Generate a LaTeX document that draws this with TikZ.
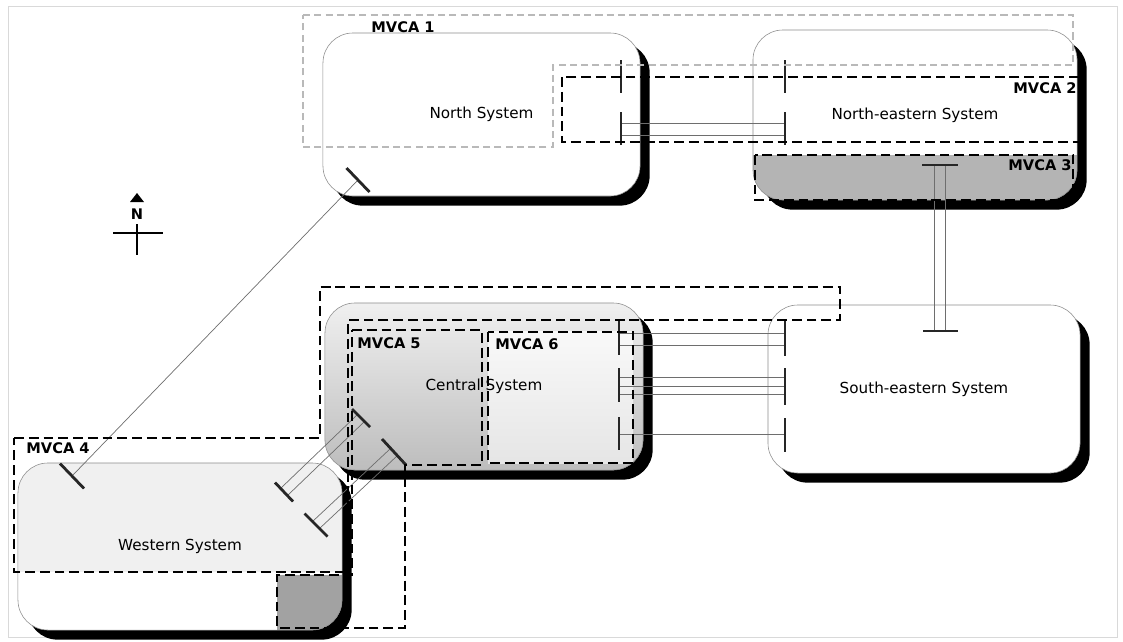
\documentclass[tikz,border=0pt]{standalone}
\usepackage{fontspec}
\setmainfont{DejaVu Sans}
\usetikzlibrary{shadows}
\definecolor{box-line}{HTML}{8C8C8C}
\definecolor{link-line}{HTML}{6E6E6E}
\definecolor{zone-mid}{HTML}{B4B4B4}
\definecolor{zone-dark}{HTML}{A2A2A2}

\begin{document}
\begin{tikzpicture}[x=0.025cm, y=-0.025cm,
      every node/.style={font=\fontsize{10.8}{13}\selectfont},
      system/.style={draw=box-line, fill=white, rounded corners=0.75cm,
        align=center, drop shadow={shadow xshift=0.24cm,
        shadow yshift=-0.24cm, fill=black, opacity=1}},
      zone/.style={draw=black, line width=2pt, dash pattern=on 7pt off 3.5pt},
      outer zone/.style={draw=gray!55, line width=1.1pt,
        dash pattern=on 5pt off 3pt},
      zone label/.style={font=\fontsize{10.4}{12}\selectfont\bfseries},
      link/.style={draw=link-line, line width=0.5pt},
      link end/.style={draw=black!85, line width=2pt}]
    \useasboundingbox (0,0) rectangle (1123,641);
    \draw[gray!30, line width=0.4pt] (8,6) rectangle (1117,637);

    % systems
    \node[system, minimum width=7.925cm, minimum height=4.075cm]
          (NS) at (481.5,114.5) {North System};
    \node[system, minimum width=8.1cm, minimum height=4.25cm,
          path picture={\fill[sharp corners, zone-mid]
            ([yshift=1.125cm]path picture bounding box.south west)
            rectangle (path picture bounding box.south east);}]
          (NES) at (915,115) {North-eastern System};
    \node[system, minimum width=8.1cm, minimum height=4.175cm,
          path picture={\fill[sharp corners, gray!12]
            (path picture bounding box.north west)
            rectangle ([yshift=1.45cm]path picture bounding box.south east);
            \fill[sharp corners, zone-dark]
            ([shift={(-1.625cm,1.375cm)}]path picture bounding box.south east)
            rectangle (path picture bounding box.south east);}]
          (WS) at (180,546.5) {Western System};
    \node[system, minimum width=7.95cm, minimum height=4.175cm,
          path picture={\shade[sharp corners, top color=gray!12,
            bottom color=gray!52] (path picture bounding box.north west)
            rectangle (path picture bounding box.south east);
            \shade[sharp corners, top color=gray!5, bottom color=gray!20]
            ([shift={(4.075cm,-0.725cm)}]path picture bounding box.north west)
            rectangle ([shift={(7.7cm,-4cm)}]path picture bounding box.north west);}]
          (CS) at (484,386.5) {Central System};
    \node[system, minimum width=7.8cm, minimum height=4.2cm]
          (SES) at (924,389) {South-eastern System};

    % link end points
    \coordinate (ns-1) at (621,77);   \coordinate (ne-1) at (785,77);
    \coordinate (ns-2) at (621,128);  \coordinate (ne-2) at (785,128);
    \coordinate (ne-4) at (940,165);  \coordinate (se-4) at (940,331);
    \coordinate (cs-1) at (619,338);  \coordinate (se-1) at (785,338);
    \coordinate (cs-2) at (619,386);  \coordinate (se-2) at (785,386);
    \coordinate (cs-3) at (619,434);  \coordinate (se-3) at (785,434);
    \coordinate (ns-3) at (358,180);  \coordinate (ws-3) at (72,476);
    \coordinate (cs-4) at (361,418);  \coordinate (ws-4) at (284,492);
    \coordinate (cs-5) at (394,452);  \coordinate (ws-5) at (316,525);

    % links
    \draw[link] ([shift={(0,-5)}]ns-2) -- ([shift={(0,-5)}]ne-2);
    \draw[link] ([shift={(0,7)}]ns-2) -- ([shift={(0,7)}]ne-2);
    \draw[link] ([shift={(-5.5,0)}]ne-4) -- ([shift={(-5.5,0)}]se-4);
    \draw[link] ([shift={(5.5,0)}]ne-4) -- ([shift={(5.5,0)}]se-4);
    \draw[link] ([shift={(0,-5)}]cs-1) -- ([shift={(0,-5)}]se-1);
    \draw[link] ([shift={(0,7)}]cs-1) -- ([shift={(0,7)}]se-1);
    \draw[link] ([shift={(0,-9)}]cs-2) -- ([shift={(0,-9)}]se-2);
    \draw[link] (cs-2) -- (se-2);
    \draw[link] ([shift={(0,8)}]cs-2) -- ([shift={(0,8)}]se-2);
    \draw[link] (cs-3) -- (se-3);
    \draw[link] (ns-3) -- (ws-3);
    \draw[link] ([shift={(-3.5,-3.5)}]cs-4) -- ([shift={(-3.5,-3.5)}]ws-4);
    \draw[link] ([shift={(3.5,3.5)}]cs-4) -- ([shift={(3.5,3.5)}]ws-4);
    \draw[link] ([shift={(-3.5,-3.5)}]cs-5) -- ([shift={(-3.5,-3.5)}]ws-5);
    \draw[link] ([shift={(3.5,3.5)}]cs-5) -- ([shift={(3.5,3.5)}]ws-5);

    % link ends
    \draw[link end] ([shift={(0,-17)}]ns-1) -- ([shift={(0,16)}]ns-1);
    \draw[link end] ([shift={(0,-17)}]ne-1) -- ([shift={(0,16)}]ne-1);
    \draw[link end] ([shift={(0,-16)}]ns-2) -- ([shift={(0,17)}]ns-2);
    \draw[link end] ([shift={(0,-16)}]ne-2) -- ([shift={(0,17)}]ne-2);
    \draw[link end] ([shift={(-18,0)}]ne-4) -- ([shift={(18,0)}]ne-4);
    \draw[link end] ([shift={(-17,0)}]se-4) -- ([shift={(18,0)}]se-4);
    \draw[link end] ([shift={(0,-18)}]cs-1) -- ([shift={(0,17)}]cs-1);
    \draw[link end] ([shift={(0,-18)}]se-1) -- ([shift={(0,18)}]se-1);
    \draw[link end] ([shift={(0,-18)}]cs-2) -- ([shift={(0,16)}]cs-2);
    \draw[link end] ([shift={(0,-18)}]se-2) -- ([shift={(0,19)}]se-2);
    \draw[link end] ([shift={(0,-17)}]cs-3) -- ([shift={(0,16)}]cs-3);
    \draw[link end] ([shift={(0,-16)}]se-3) -- ([shift={(0,18)}]se-3);
    \draw[link end] ([shift={(-11.5,-12)}]ns-3) -- ([shift={(11.5,12)}]ns-3);
    \draw[link end] ([shift={(-12,-12.5)}]ws-3) -- ([shift={(12,12.5)}]ws-3);
    \draw[link end] ([shift={(-9,-9)}]cs-4) -- ([shift={(9,9)}]cs-4);
    \draw[link end] ([shift={(-9,-9.5)}]ws-4) -- ([shift={(9,9.5)}]ws-4);
    \draw[link end] ([shift={(-12,-13)}]cs-5) -- ([shift={(12,13)}]cs-5);
    \draw[link end] ([shift={(-11.5,-11.5)}]ws-5) -- ([shift={(11.5,11.5)}]ws-5);

    % MVCA zones
    \draw[outer zone] (303,15) -- (1073,15) -- (1073,65) -- (553,65)
          -- (553,147) -- (303,147) -- cycle;
    \draw[zone] (562,77) rectangle (1080,142);
    \draw[zone, line width=1.6pt] (755,155) rectangle (1073,200);
    \draw[zone] (14,438) -- (320,438) -- (320,287) -- (840,287) -- (840,320)
          -- (348,320) -- (348,572) -- (14,572) -- cycle;
    \draw[zone] (352,330) -- (482,330) -- (482,465) -- (405,465) -- (405,628)
          -- (277,628) -- (277,575) -- (352,575) -- cycle;
    \draw[zone] (488,332) rectangle (633,463);
    \node[zone label] (Z1) at (403,27) {MVCA 1};
    \node[zone label] (Z2) at (1045,88) {MVCA 2};
    \node[zone label] (Z3) at (1040,165) {MVCA 3};
    \node[zone label] (Z4) at (58,448) {MVCA 4};
    \node[zone label] (Z5) at (389,343) {MVCA 5};
    \node[zone label] (Z6) at (527,344) {MVCA 6};

    % compass
    \node[zone label] (N) at (137,214) {N};
    \fill (130,202) -- (137,193) -- (144,202) -- cycle;
    \draw[line width=2pt] (113,233) -- (163,233) (137,224) -- (137,255);
  \end{tikzpicture}
\end{document}
